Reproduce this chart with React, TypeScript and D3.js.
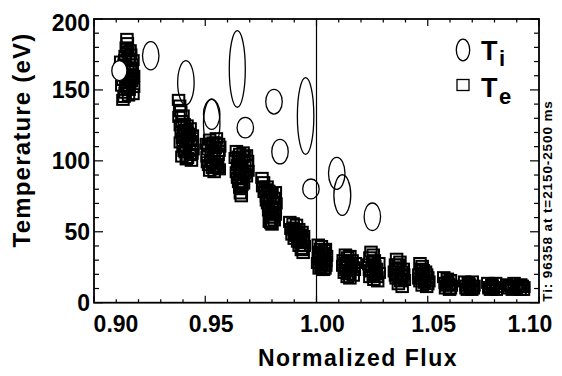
import React from 'react'
import * as d3 from 'd3'

const width = 562
const height = 376
const margin = { top: 19, right: 23, bottom: 73.3, left: 94 }

// axis ticks
const xTickLabels = [0.9, 0.95, 1.0, 1.05, 1.1]
const yTickLabels = [0, 50, 100, 150, 200]

// T_i points (drawn as error ellipses)
const ionFlux = [0.9114, 0.9255, 0.9413, 0.9529, 0.9529, 0.9644, 0.968, 0.9809, 0.9836, 0.9951, 0.9975, 1.0091, 1.0116, 1.0251]
const ionTemp = [163.6, 174.1, 155.1, 132.8, 126.3, 164.8, 123.4, 141.7, 106.5, 131.6, 80.2, 91.2, 75.9, 60.6]
const ionTempErr = [7.0, 10.0, 15.5, 10.6, 17.3, 27.0, 7.2, 8.7, 8.7, 27.1, 7.0, 11.3, 14.3, 9.7]
const ionFluxErr = [0.0034, 0.0037, 0.0037, 0.0037, 0.0037, 0.0036, 0.0037, 0.0037, 0.0037, 0.0037, 0.0037, 0.0037, 0.0038, 0.0037]

// T_e points, one array per time slice group [flux, eV]
const te091: [number, number][] = [
    [0.9148, 186], [0.915, 183], [0.9145, 180], [0.9152, 177], [0.914, 174], [0.9158, 172], [0.912, 170],
    [0.9135, 168], [0.9165, 166], [0.9125, 163], [0.917, 161], [0.9145, 160], [0.913, 157], [0.9175, 158],
    [0.916, 155], [0.9125, 153], [0.915, 151], [0.9178, 152], [0.914, 148], [0.9135, 145], [0.913, 143],
    [0.9155, 146], [0.9165, 163], [0.9118, 165], [0.9172, 168],
    [0.9165, 175], [0.9175, 171], [0.9172, 164], [0.9178, 160], [0.9168, 156], [0.9158, 150], [0.9175, 147],
    [0.9142, 152], [0.9152, 165], [0.9138, 171], [0.9155, 158], [0.9162, 178],
]
const te094: [number, number][] = [
    [0.938, 143], [0.9385, 139], [0.939, 135], [0.9382, 131], [0.9395, 128], [0.94, 132], [0.9388, 125],
    [0.9405, 126], [0.941, 122], [0.9392, 120], [0.942, 120], [0.9398, 116], [0.9425, 117], [0.9415, 113],
    [0.9435, 114], [0.94, 110], [0.943, 108], [0.941, 106], [0.944, 105], [0.942, 102], [0.9395, 103],
    [0.9438, 100], [0.9412, 111], [0.9428, 119],
    [0.9418, 125], [0.9432, 123], [0.9442, 111], [0.9405, 118], [0.9422, 115], [0.9432, 104], [0.9405, 107],
    [0.9415, 101], [0.9442, 118], [0.9402, 121], [0.9388, 113], [0.9445, 108],
]
const te095: [number, number][] = [
    [0.9505, 112], [0.952, 115], [0.9535, 113], [0.955, 116], [0.956, 112], [0.9512, 108], [0.9528, 106],
    [0.9545, 109], [0.9562, 107], [0.9508, 103], [0.9525, 100], [0.954, 102], [0.9555, 100], [0.9515, 97],
    [0.9532, 95], [0.9548, 96], [0.9563, 94], [0.954, 92], [0.952, 93],
    [0.9513, 111], [0.9558, 104], [0.9535, 98], [0.9552, 98], [0.9528, 110], [0.9565, 110], [0.9548, 113],
    [0.951, 99], [0.9538, 105], [0.9555, 95],
]
const te096: [number, number][] = [
    [0.964, 107], [0.9655, 105], [0.967, 106], [0.9685, 104], [0.9635, 102], [0.965, 100], [0.9665, 101],
    [0.969, 100], [0.9645, 97], [0.966, 95], [0.9678, 96], [0.9692, 93], [0.964, 92], [0.9655, 90],
    [0.967, 88], [0.9685, 89], [0.965, 85], [0.9665, 83], [0.966, 80], [0.9658, 77], [0.9662, 75],
    [0.9648, 103], [0.9675, 103], [0.9688, 97], [0.9668, 92], [0.9652, 94], [0.9678, 91], [0.9645, 88],
    [0.966, 87], [0.9672, 84], [0.9655, 81],
]
const te098: [number, number][] = [
    [0.9755, 88], [0.9762, 85], [0.9758, 82], [0.977, 80], [0.9765, 78], [0.9785, 79], [0.98, 77],
    [0.9815, 78], [0.9775, 75], [0.979, 73], [0.981, 74], [0.978, 70], [0.9798, 68], [0.9818, 70],
    [0.9785, 65], [0.9805, 63], [0.9792, 60], [0.981, 58], [0.98, 55], [0.9788, 57],
    [0.9778, 82], [0.9792, 77], [0.9805, 71], [0.9785, 68], [0.9812, 66], [0.9795, 64], [0.9802, 60],
    [0.9775, 72], [0.9815, 62], [0.9795, 56],
]
const te099: [number, number][] = [
    [0.988, 57], [0.9895, 56], [0.991, 55], [0.9885, 52], [0.99, 51], [0.992, 52], [0.9935, 50],
    [0.989, 48], [0.9908, 47], [0.9925, 46], [0.9942, 47], [0.9915, 43], [0.993, 42], [0.9945, 40],
    [0.9932, 37], [0.994, 35], [0.99, 45],
    [0.9895, 53], [0.9912, 50], [0.9928, 48], [0.9938, 44], [0.9922, 40], [0.9905, 49], [0.9938, 38],
    [0.9918, 46],
]
const te100: [number, number][] = [
    [1.0008, 41], [1.0022, 40], [1.004, 38], [1.001, 36], [1.003, 35], [1.0045, 33], [1.0015, 31],
    [1.0035, 30], [1.0005, 28], [1.0025, 27], [1.0042, 26], [1.0012, 24], [1.0032, 23], [1.002, 25],
    [1.0018, 38], [1.0035, 37], [1.0025, 33], [1.0008, 32], [1.0042, 29], [1.0022, 29], [1.0038, 24],
]
const te101: [number, number][] = [
    [1.013, 34], [1.015, 33], [1.012, 30], [1.014, 29], [1.016, 30], [1.0175, 28], [1.0118, 26],
    [1.0135, 25], [1.0155, 24], [1.017, 23], [1.0125, 21], [1.0145, 20], [1.0165, 19], [1.015, 17],
    [1.014, 32], [1.0128, 28], [1.0158, 27], [1.0148, 22], [1.0132, 23], [1.0168, 25], [1.0138, 18],
]
const te102: [number, number][] = [
    [1.0245, 36], [1.0255, 34], [1.024, 32], [1.026, 30], [1.028, 28], [1.0235, 27], [1.025, 25],
    [1.027, 24], [1.0245, 22], [1.0265, 20], [1.0282, 21], [1.024, 18], [1.0258, 16], [1.0275, 15],
    [1.0262, 26], [1.0252, 29], [1.0268, 22], [1.0255, 19], [1.0272, 18], [1.0238, 23],
]
const te104: [number, number][] = [
    [1.036, 31], [1.0375, 29], [1.0355, 27], [1.037, 25], [1.039, 24], [1.035, 22], [1.0365, 20],
    [1.0385, 19], [1.0358, 17], [1.0378, 15], [1.0395, 16], [1.0368, 13], [1.0385, 11],
    [1.0368, 27], [1.0382, 22], [1.036, 24], [1.0392, 20], [1.0375, 17], [1.0355, 19],
]
const te105: [number, number][] = [
    [1.0465, 28], [1.0475, 26], [1.047, 24], [1.049, 22], [1.046, 20], [1.048, 19], [1.05, 18],
    [1.0465, 15], [1.0485, 14], [1.0505, 15], [1.0475, 12], [1.0495, 11], [1.046, 17],
    [1.048, 23], [1.0495, 20], [1.047, 17], [1.0488, 16], [1.05, 13], [1.0478, 21],
]
const te106: [number, number][] = [
    [1.0572, 18], [1.0588, 17], [1.0602, 16], [1.0578, 14], [1.0595, 13], [1.0606, 12], [1.058, 10], [1.0598, 9],
    [1.059, 15], [1.0585, 12], [1.0602, 10],
]
const te107: [number, number][] = [
    [1.0666, 15], [1.0682, 14], [1.07, 15], [1.0672, 12], [1.069, 11], [1.0708, 12], [1.0678, 9], [1.0698, 9],
    [1.0688, 13], [1.0705, 10], [1.0672, 10],
]
const te108: [number, number][] = [
    [1.077, 14], [1.0788, 13], [1.0805, 14], [1.0775, 11], [1.0795, 10], [1.0812, 11], [1.0782, 9],
    [1.079, 12], [1.0808, 9], [1.0775, 10],
]
const te109: [number, number][] = [
    [1.0855, 13], [1.087, 12], [1.0888, 14], [1.0902, 12], [1.0918, 13], [1.0932, 11], [1.086, 10],
    [1.088, 9], [1.0898, 10], [1.0915, 9], [1.093, 9],
    [1.0875, 11], [1.091, 11], [1.0925, 12], [1.0865, 12],
]

const electronPoints = [
    ...te091, ...te094, ...te095, ...te096, ...te098, ...te099, ...te100, ...te101,
    ...te102, ...te104, ...te105, ...te106, ...te107, ...te108, ...te109,
]

const font = "'Liberation Sans', Arial, Helvetica, sans-serif"

export default function App() {
    const innerW = width - margin.left - margin.right
    const innerH = height - margin.top - margin.bottom

    const x = d3.scaleLinear().domain([0.9, 1.1]).range([margin.left, margin.left + innerW])
    const y = d3.scaleLinear().domain([0, 200]).range([margin.top + innerH, margin.top])

    const xMinor = d3.range(0, 21).map(i => +(0.9 + i * 0.01).toFixed(2))
    const yMinor = d3.range(0, 201, 10)

    const left = x(0.9), right = x(1.1), top = y(200), bottom = y(0)
    const sqW = 11.5, sqH = 10

    return (
        <svg width={width} height={height} viewBox={`0 0 ${width} ${height}`}
            style={{ position: 'absolute', left: 0, top: 0, background: '#fff' }}>
            <rect x={0} y={0} width={width} height={height} fill="#fff" />

            {/* T_e squares */}
            <g fill="none" stroke="#000" strokeWidth={2}>
                {electronPoints.map((d, i) => (
                    <rect key={i} x={x(d[0]) - sqW / 2} y={y(d[1]) - sqH / 2} width={sqW} height={sqH} />
                ))}
            </g>

            {/* T_i ellipses */}
            <g stroke="#000" strokeWidth={1.3}>
                {ionFlux.map((f, i) => (
                    <ellipse key={i} cx={x(f)} cy={y(ionTemp[i])}
                        rx={x(f + ionFluxErr[i]) - x(f)}
                        ry={y(ionTemp[i] - ionTempErr[i]) - y(ionTemp[i])}
                        fill={i === 0 ? '#fff' : 'none'} />
                ))}
            </g>

            {/* separatrix */}
            <line x1={x(1.0)} x2={x(1.0)} y1={top} y2={bottom} stroke="#000" strokeWidth={1.2} />

            {/* frame */}
            <rect x={left} y={top} width={right - left} height={bottom - top} fill="none" stroke="#000" strokeWidth={1.8} />

            {/* ticks */}
            <g stroke="#000" strokeWidth={1.2}>
                {xMinor.map((t, i) => {
                    const len = i % 5 === 0 ? 7 : 3.5
                    return (
                        <g key={i}>
                            <line x1={x(t)} x2={x(t)} y1={bottom} y2={bottom - len} />
                            <line x1={x(t)} x2={x(t)} y1={top} y2={top + len} />
                        </g>
                    )
                })}
                {yMinor.map((t, i) => {
                    const len = t % 50 === 0 ? 9 : 5
                    return (
                        <g key={i}>
                            <line x1={left} x2={left + len} y1={y(t)} y2={y(t)} />
                            <line x1={right} x2={right - len} y1={y(t)} y2={y(t)} />
                        </g>
                    )
                })}
            </g>

            {/* tick labels */}
            <g fontFamily={font} fontWeight="bold" fontSize={23} fill="#000">
                {xTickLabels.map((t, i) => (
                    <text key={i} x={Math.min(Math.max(x(t) + 6, 116), 530)} y={332} textAnchor="middle">
                        {t.toFixed(2)}
                    </text>
                ))}
                {yTickLabels.map((t, i) => (
                    <text key={i} x={90} y={Math.max(y(t), 23) + 8} textAnchor="end">{t}</text>
                ))}
            </g>

            {/* axis titles */}
            <text x={358} y={366} textAnchor="middle" fontFamily={font} fontWeight="bold" fontSize={23}
                letterSpacing={1.5}>Normalized Flux</text>
            <text transform="translate(30,140) rotate(-90)" textAnchor="middle" fontFamily={font}
                fontWeight="bold" fontSize={24} letterSpacing={1.2}>Temperature (eV)</text>
            <text transform="translate(552,201) rotate(-90)" textAnchor="middle" fontFamily={font}
                fontWeight="bold" fontSize={13.5} letterSpacing={0.9}>Ti: 96358 at t=2150-2500 ms</text>

            {/* legend */}
            <ellipse cx={463} cy={50} rx={6.7} ry={10.8} fill="none" stroke="#000" strokeWidth={1.3} />
            <rect x={457} y={79.5} width={12} height={11} fill="none" stroke="#000" strokeWidth={1.3} />
            <g fontFamily={font} fontWeight="bold" fill="#000">
                <text x={481} y={60} fontSize={27}>T</text>
                <text x={499} y={66} fontSize={22}>i</text>
                <text x={481} y={97} fontSize={27}>T</text>
                <text x={499} y={104} fontSize={22}>e</text>
            </g>
        </svg>
    )
}
